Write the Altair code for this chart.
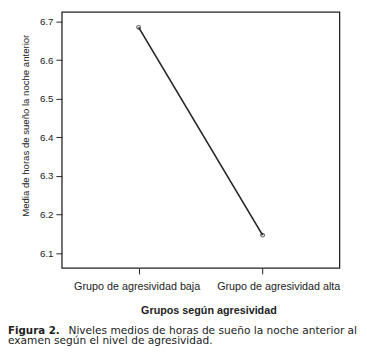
import altair as alt
import pandas as pd

groups = ["Grupo de agresividad baja", "Grupo de agresividad alta"]
means = [6.685, 6.147]
y_ticks = [6.1, 6.2, 6.3, 6.4, 6.5, 6.6, 6.7]

caption_bold = "Figura 2."
caption_line1 = "Niveles medios de horas de sueño la noche anterior al"
caption_line2 = "examen según el nivel de agresividad."

df = pd.DataFrame({"grupo": groups, "media": means})

ink = "#222222"
xscale = alt.Scale(type="point", domain=groups, padding=0.62)
yscale = alt.Scale(domain=[6.062, 6.725], nice=False, zero=False)

base = alt.Chart(df)

line = base.mark_line(color=ink, strokeWidth=1.6).encode(
    x=alt.X("grupo:N", scale=xscale, sort=groups,
            axis=alt.Axis(title="Grupos según agresividad", labelAngle=0, domain=False,
                          tickSize=6, tickColor=ink, labelPadding=7, labelFontSize=11,
                          labelOffset={"condition": {"test": "datum.value == 'Grupo de agresividad baja'",
                                                     "value": -2}, "value": 16},
                          labelColor=ink, titleFontSize=11, titleFontWeight="bold",
                          titleColor=ink, titlePadding=14, labelFont="Liberation Sans",
                          titleFont="Liberation Sans", titleX=150)),
    y=alt.Y("media:Q", scale=yscale,
            axis=alt.Axis(title="Media de horas de sueño la noche anterior", values=y_ticks,
                          format=".1f", domain=False, grid=False, tickSize=6, tickColor=ink,
                          labelPadding=3, labelFontSize=10, labelColor=ink, titleFontSize=9.8,
                          titleFontWeight="normal", titleColor=ink,
                          titleX=-32, titleY=116,
                          labelFont="Liberation Sans", titleFont="Liberation Sans")),
)

pts = base.mark_point(shape="circle", size=14, filled=False, color=ink, strokeWidth=1.2).encode(
    x=alt.X("grupo:N", scale=xscale, sort=groups),
    y=alt.Y("media:Q", scale=yscale),
)

cap1a = alt.Chart(pd.DataFrame({"t": [caption_bold]})).mark_text(
    align="left", baseline="alphabetic", font="DejaVu Sans", fontSize=10.5, fontWeight="bold", color=ink
).encode(text="t:N", x=alt.value(-55), y=alt.value(329))

cap1b = alt.Chart(pd.DataFrame({"t": [caption_line1]})).mark_text(
    align="right", baseline="alphabetic", font="DejaVu Sans", fontSize=10.85, color=ink
).encode(text="t:N", x=alt.value(302), y=alt.value(329))

cap2 = alt.Chart(pd.DataFrame({"t": [caption_line2]})).mark_text(
    align="left", baseline="alphabetic", font="DejaVu Sans", fontSize=10.85, color=ink
).encode(text="t:N", x=alt.value(-55), y=alt.value(340))

chart = alt.layer(line, pts, cap1a, cap1b, cap2).properties(
    width=284, height=262,
    background="white",
    autosize=alt.AutoSizeParams(type="none"),
    padding={"left": 55, "top": 0, "right": 20, "bottom": 83},
).configure_view(stroke=ink, strokeWidth=1.3)

chart.save("out.html", embed_options={"renderer": "svg", "actions": False})
